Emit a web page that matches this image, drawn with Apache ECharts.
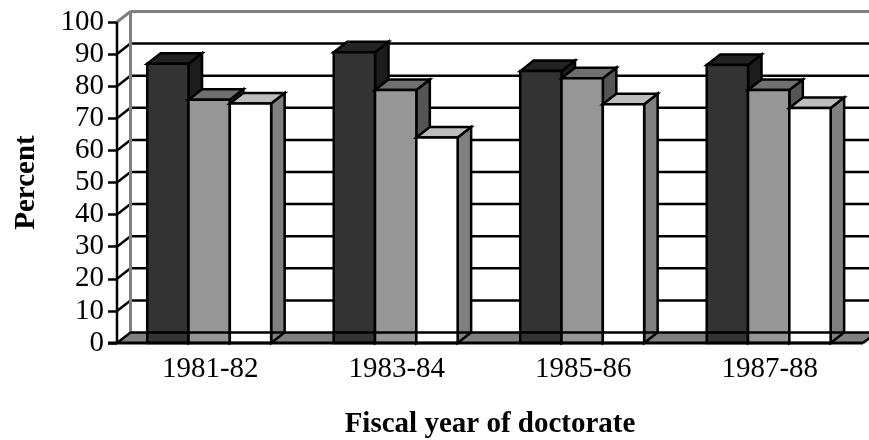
<!DOCTYPE html>
<html>
<head>
<meta charset="utf-8">
<style>html,body{margin:0;padding:0;background:#fff}#c{width:869px;height:440px}</style>
<script src="https://cdn.jsdelivr.net/npm/echarts@6/dist/echarts.min.js"></script>
</head>
<body>
<div id="c"></div>
<script>
var categories = ['1981-82', '1983-84', '1985-86', '1987-88'];
var darkValues = [87, 90.6, 84.7, 86.6];
var grayValues = [75.8, 78.8, 82.5, 78.8];
var whiteValues = [74.6, 64, 74.4, 73.2];
var gridValues = [10, 20, 30, 40, 50, 60, 70, 80, 90];
var yMin = 0, yMax = 100, yStep = 10;

var DX = 13.5, DY = -10.5, FONT = '"Liberation Serif", "Times New Roman", serif';

function poly(points, fill, stroke) {
  return { type: 'polygon', shape: { points: points },
    style: { fill: fill, stroke: stroke === undefined ? '#000' : stroke, lineWidth: 2.5, lineJoin: 'miter' } };
}
function seg(x1, y1, x2, y2, stroke, w) {
  return { type: 'line', shape: { x1: x1, y1: y1, x2: x2, y2: y2 }, style: { stroke: stroke, lineWidth: w } };
}

function barSeries(name, values, offset, front, top, side, z) {
  return {
    name: name, type: 'custom', z: z, silent: true,
    data: values.map(function (v, i) { return [i, v]; }),
    encode: { x: 0, y: 1 },
    renderItem: function (params, api) {
      var c = api.coord([api.value(0), api.value(1)]);
      var base = api.coord([api.value(0), 0]);
      var band = api.size([1, 0])[0];
      var w = band * 0.2215;
      var l = c[0] - band * 0.338 + offset * w;
      var r = l + w, t = c[1], b = base[1];
      return { type: 'group', children: [
        poly([[r, b], [r + DX, b + DY], [r + DX, t + DY], [r, t]], side),
        poly([[l, t], [l + DX, t + DY], [r + DX, t + DY], [r, t]], top),
        poly([[l, t], [r, t], [r, b], [l, b]], front)
      ] };
    }
  };
}

var option = {
  animation: false,
  backgroundColor: '#fff',
  grid: { left: 117, top: 22, width: 746, height: 321, containLabel: false, outerBoundsMode: 'none' },
  xAxis: {
    type: 'category', data: categories,
    axisLine: { show: false }, axisTick: { show: false },
    axisLabel: { fontFamily: FONT, fontSize: 29, color: '#000', margin: 12 },
    name: 'Fiscal year of doctorate', nameLocation: 'middle', nameGap: 67,
    nameTextStyle: { fontFamily: FONT, fontSize: 29, fontWeight: 'bold', color: '#000' }
  },
  yAxis: {
    type: 'value', min: yMin, max: yMax, interval: yStep,
    splitLine: { show: false },
    axisLine: { show: false },
    axisTick: { show: true, length: 9, lineStyle: { color: '#000', width: 2.5 } },
    axisLabel: { fontFamily: FONT, fontSize: 29, color: '#000', margin: 13 },
    name: 'Percent', nameLocation: 'middle', nameGap: 76,
    nameTextStyle: { fontFamily: FONT, fontSize: 29, fontWeight: 'bold', color: '#000' }
  },
  series: [
    { name: 'walls', type: 'custom', z: 1, silent: true,
      data: gridValues.map(function (v) { return [0, v]; }),
      encode: { x: 0, y: 1 },
      renderItem: function (params, api) {
        var g = params.coordSys, y = api.coord([0, api.value(1)])[1], L = g.x;
        return { type: 'group', children: [
          seg(L + DX, y + DY, 880, y + DY, '#000', 2.5),
          seg(L, y, L + DX, y + DY, '#000', 2.5)
        ] };
      }
    },
    { name: 'frame', type: 'custom', z: 2, silent: true,
      data: [[0, yMax]], encode: { x: 0, y: 1 },
      renderItem: function (params, api) {
        var g = params.coordSys, L = g.x, T = g.y, B = g.y + g.height, R = g.x + g.width;
        return { type: 'group', children: [
          seg(L + DX, T + DY, 880, T + DY, '#808080', 3),
          seg(L + DX, T + DY, L + DX, B + DY, '#808080', 3),
          seg(L, T, L + DX, T + DY, '#808080', 3),
          poly([[L, B], [L + DX, B + DY], [R + DX, B + DY], [R, B]], '#808080', 'none')
        ] };
      }
    },
    barSeries('Dark', darkValues, 0, '#333333', '#222222', '#1c1c1c', 3),
    barSeries('Gray', grayValues, 1, '#969696', '#707070', '#555555', 4),
    barSeries('White', whiteValues, 2, '#ffffff', '#bdbdbd', '#808080', 5),
    { name: 'front', type: 'custom', z: 6, silent: true,
      data: [[0, yMin]], encode: { x: 0, y: 1 },
      renderItem: function (params, api) {
        var g = params.coordSys, L = g.x, T = g.y, B = g.y + g.height, R = g.x + g.width;
        return { type: 'group', children: [
          seg(L + DX, B + DY, 880, B + DY, '#000', 2.5),
          seg(L, T, L, B, '#000', 2.5),
          seg(L - 9, B, R, B, '#000', 3),
          seg(L, B, L + DX, B + DY, '#000', 2.5),
          seg(R, B, R + DX, B + DY, '#000', 2.5)
        ] };
      }
    }
  ]
};
echarts.init(document.getElementById('c'), null, { renderer: 'canvas' }).setOption(option);
</script>
</body>
</html>
